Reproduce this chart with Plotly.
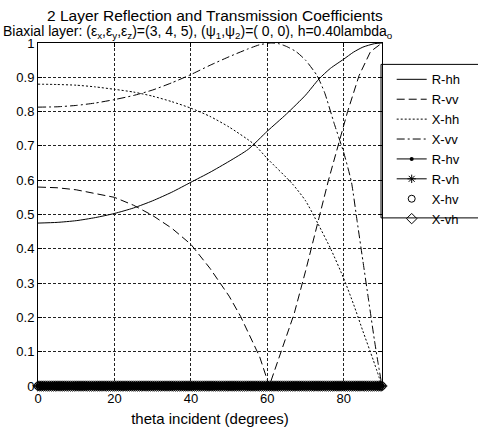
import plotly.graph_objects as go

# ---- data ----
theta_rhh = [0, 5, 10, 15, 20, 25, 30, 35, 40, 45, 50, 55, 60, 65, 70, 73.5, 76.5, 80, 82.5, 85, 88, 90]
r_hh = [0.475, 0.477, 0.482, 0.491, 0.503, 0.519, 0.54, 0.565, 0.594, 0.623, 0.655, 0.69, 0.743, 0.793,
        0.848, 0.895, 0.926, 0.953, 0.973, 0.988, 0.998, 1.0]

theta_rvv = [0, 5, 10, 15, 20, 25, 30, 35, 40, 45, 50, 53, 55, 58, 60.5, 63, 65, 67, 70, 73, 76, 78.5, 81, 84, 87, 90]
r_vv = [0.58, 0.578, 0.572, 0.562, 0.55, 0.527, 0.497, 0.46, 0.413, 0.343, 0.262, 0.203, 0.155, 0.085, 0.0,
        0.08, 0.145, 0.21, 0.335, 0.47, 0.60, 0.70, 0.80, 0.905, 0.975, 1.0]

theta_xhh = [0, 5, 10, 15, 20, 25, 30, 35, 40, 45, 50, 56.4, 60, 66.5, 70, 73.3, 76.7, 80, 82.6, 85, 87.7, 90]
x_hh = [0.88, 0.879, 0.877, 0.872, 0.865, 0.857, 0.845, 0.829, 0.81, 0.786, 0.755, 0.706, 0.663, 0.59, 0.54,
        0.472, 0.397, 0.313, 0.237, 0.16, 0.076, 0.0]

theta_xvv = [0, 5, 10, 15, 20, 25, 30, 35, 40, 45, 50, 55, 58, 61, 63, 65, 67.5, 70, 73, 75, 77.5, 80, 82,
             83.5, 85, 86.5, 88, 89, 90]
x_vv = [0.813, 0.814, 0.818, 0.825, 0.835, 0.847, 0.863, 0.884, 0.908, 0.935, 0.96, 0.983, 0.995, 1.0, 0.998,
        0.99, 0.975, 0.95, 0.905, 0.855, 0.765, 0.68, 0.595, 0.48, 0.365, 0.25, 0.135, 0.065, 0.0]

# cross-polarised coefficients: all read as zero at every sampled angle (0 to 90 in 0.5 degree steps)
theta_cp = [i * 0.5 for i in range(181)]
r_hv = [0.0] * len(theta_cp)
r_vh = [0.0] * len(theta_cp)
x_hv = [0.0] * len(theta_cp)
x_vh = [0.0] * len(theta_cp)

x_ticks = [0, 20, 40, 60, 80]
x_ticklabels = ["0", "20", "40", "60", "80"]
y_ticks = [0, 0.1, 0.2, 0.3, 0.4, 0.5, 0.6, 0.7, 0.8, 0.9, 1.0]
y_ticklabels = ["0", "0.1", "0.2", "0.3", "0.4", "0.5", "0.6", "0.7", "0.8", "0.9", "1"]

title_1 = "2 Layer Reflection and Transmission Coefficients"
title_2 = ("Biaxial layer: (ε<sub>x</sub>,ε<sub>y</sub>,ε<sub>z</sub>)=(3, 4, 5), "
           "(ψ<sub>1</sub>,ψ<sub>2</sub>)=( 0, 0), h=0.40lambda<sub>o</sub>")
x_title = "theta incident (degrees)"

# ---- layout constants (pixels) ----
W, H = 478, 436
ML, MR, MT, MB = 38, 85, 43, 40
PH = H - MT - MB
PW = W - ML - MR
FONT = "Liberation Sans, Arial, sans-serif"


def py(pix):
    """pixel row from top -> paper y"""
    return 1 - (pix - MT) / PH


def px(pix):
    return (pix - ML) / PW


fig = go.Figure()
blk = "black"
fig.add_trace(go.Scatter(x=theta_rhh, y=r_hh, mode="lines", name="R-hh",
                         line=dict(color=blk, width=1, shape="spline", smoothing=0.6)))
fig.add_trace(go.Scatter(x=theta_rvv, y=r_vv, mode="lines", name="R-vv",
                         line=dict(color=blk, width=1, dash="8px,4px")))
fig.add_trace(go.Scatter(x=theta_xhh, y=x_hh, mode="lines", name="X-hh",
                         line=dict(color=blk, width=1, dash="2px,2px", shape="spline", smoothing=0.6)))
fig.add_trace(go.Scatter(x=theta_xvv, y=x_vv, mode="lines", name="X-vv",
                         line=dict(color=blk, width=1, dash="8px,3px,2px,3px", shape="spline", smoothing=0.5)))
fig.add_trace(go.Scatter(x=theta_cp, y=r_hv, mode="lines+markers", name="R-hv",
                         line=dict(color=blk, width=1),
                         marker=dict(symbol="circle", size=4, color=blk), cliponaxis=False))
fig.add_trace(go.Scatter(x=theta_cp, y=r_vh, mode="lines+markers", name="R-vh",
                         line=dict(color=blk, width=1),
                         marker=dict(symbol="asterisk-open", size=7, color=blk,
                                     line=dict(color=blk, width=1)), cliponaxis=False))
fig.add_trace(go.Scatter(x=theta_cp, y=x_hv, mode="markers", name="X-hv",
                         marker=dict(symbol="circle-open", size=7, color=blk,
                                     line=dict(color=blk, width=1)), cliponaxis=False))
fig.add_trace(go.Scatter(x=theta_cp, y=x_vh, mode="markers", name="X-vh",
                         marker=dict(symbol="diamond-open", size=8, color=blk,
                                     line=dict(color=blk, width=1)), cliponaxis=False))

axis_common = dict(
    showline=True, linecolor=blk, linewidth=1, mirror="ticks",
    ticks="inside", ticklen=4, tickcolor=blk, tickwidth=1,
    showgrid=True, gridcolor="#222", gridwidth=1, griddash="3px,2px",
    zeroline=False, tickfont=dict(family=FONT, size=13, color=blk),
)

fig.update_layout(
    width=W, height=H,
    margin=dict(l=ML, r=MR, t=MT, b=MB, pad=0),
    paper_bgcolor="white", plot_bgcolor="white",
    font=dict(family=FONT, size=13, color=blk),
    xaxis=dict(range=[0, 90], tickvals=x_ticks, ticktext=x_ticklabels,
               title=dict(text=x_title, font=dict(family=FONT, size=15, color=blk), standoff=8),
               **axis_common),
    yaxis=dict(range=[0, 1], tickvals=y_ticks, ticktext=y_ticklabels, **axis_common),
    showlegend=True,
    legend=dict(x=px(403), y=py(65), xanchor="left", yanchor="top",
                bgcolor="rgba(0,0,0,0)", borderwidth=0,
                font=dict(family=FONT, size=13, color=blk),
                itemwidth=30, tracegroupgap=0),
    shapes=[dict(type="rect", xref="paper", yref="paper",
                 x0=px(392), x1=px(520), y0=py(223), y1=py(65),
                 line=dict(color=blk, width=1), fillcolor="rgba(0,0,0,0)", layer="below")],
    annotations=[
        dict(text=title_1, xref="paper", yref="paper", x=px(221), y=py(26),
             xanchor="center", yanchor="bottom", showarrow=False,
             font=dict(family=FONT, size=15.5, color=blk)),
        dict(text=title_2, xref="paper", yref="paper", x=px(203), y=py(43),
             xanchor="center", yanchor="bottom", showarrow=False,
             font=dict(family=FONT, size=14, color=blk)),
    ],
)

fig.write_html("out.html")
